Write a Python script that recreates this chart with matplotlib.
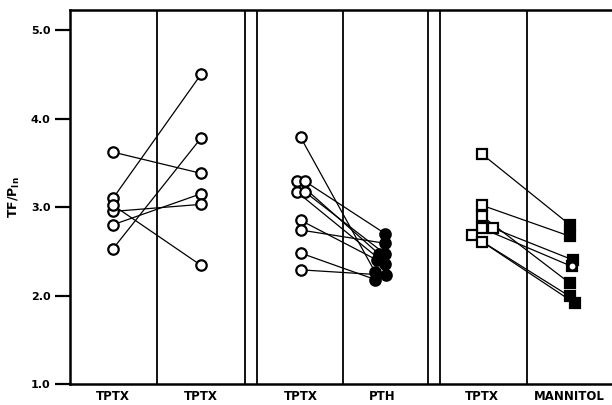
#!/usr/bin/env python3
"""Paired TF/P_In values: TPTX vs TPTX, TPTX vs PTH, TPTX vs MANNITOL."""

import matplotlib
matplotlib.use("Agg")
import matplotlib.pyplot as plt

# column labels along the bottom
col_labels = ["TPTX", "TPTX", "TPTX", "PTH", "TPTX", "MANNITOL"]

# panel A: TPTX -> TPTX (open circles both sides)
a_before = [3.62, 3.10, 2.53, 2.80, 2.95, 3.02]
a_after = [3.38, 4.50, 3.78, 3.15, 3.03, 2.34]
a_dx_before = [0.0, 0.0, 0.0, 0.0, 0.0, 0.0]
a_dx_after = [0.0, 0.0, 0.0, 0.0, 0.0, 0.0]

# panel B: TPTX (open circles) -> PTH (filled circles)
b_before = [3.79, 3.29, 3.29, 3.17, 3.17, 2.85, 2.74, 2.48, 2.29]
b_after = [2.26, 2.47, 2.70, 2.36, 2.47, 2.40, 2.59, 2.18, 2.23]
b_dx_before = [0.0, -0.04, 0.05, -0.04, 0.05, 0.0, 0.0, 0.0, 0.0]
b_dx_after = [-0.08, -0.04, 0.03, 0.03, 0.03, -0.06, 0.03, -0.08, 0.04]

# panel C: TPTX (open squares) -> MANNITOL (filled squares)
c_before = [3.60, 3.02, 2.76, 2.76, 2.90, 2.68, 2.61]
c_after = [2.80, 2.67, 2.40, 2.33, 2.14, 1.99, 1.91]
c_dx_before = [0.0, 0.0, 0.13, 0.0, 0.0, -0.11, 0.0]
c_dx_after = [0.0, 0.0, 0.04, 0.02, 0.0, 0.0, 0.06]

# column geometry (x units: one column ~ 1 unit)
col_centers = [0.49, 1.49, 2.62, 3.55, 4.68, 5.68]
dividers = [0.99, 1.99, 2.125, 3.10, 4.07, 4.20, 5.19]
yticks = [1.0, 2.0, 3.0, 4.0, 5.0]

fig = plt.figure(figsize=(6.12, 4.05), dpi=100)
ax = fig.add_axes([70 / 612, 21 / 405, 542 / 612, 374 / 405])
ax.set_xlim(0, 6.16)
ax.set_ylim(1.0, 5.226)

for d in dividers:
    ax.axvline(d, color="black", linewidth=1.3, zorder=1)


def draw_pairs(before, after, dxb, dxa, xb, xa, mk, fill_after):
    for yb, ya, db, da in zip(before, after, dxb, dxa):
        ax.plot([xb + db, xa + da], [yb, ya], color="black", linewidth=0.9, zorder=2)
    for yb, db in zip(before, dxb):
        ax.plot(xb + db, yb, marker=mk, markersize=7.5, markeredgewidth=1.6,
                markerfacecolor="white", markeredgecolor="black",
                linestyle="none", zorder=3)
    for ya, da in zip(after, dxa):
        ax.plot(xa + da, ya, marker=mk, markersize=7.5, markeredgewidth=1.6,
                markerfacecolor="black" if fill_after else "white",
                markeredgecolor="black", linestyle="none", zorder=3)


draw_pairs(a_before, a_after, a_dx_before, a_dx_after, col_centers[0], col_centers[1], "o", False)
draw_pairs(b_before, b_after, b_dx_before, b_dx_after, col_centers[2], col_centers[3], "o", True)
draw_pairs(c_before, c_after, c_dx_before, c_dx_after, col_centers[4], col_centers[5], "s", True)

# the odd ringed mannitol point
ax.plot(col_centers[5] + c_dx_after[3] + 0.01, c_after[3], marker="o", markersize=5.5,
        markerfacecolor="white", markeredgecolor="black", markeredgewidth=1.3,
        linestyle="none", zorder=4)

for spine in ["left", "bottom", "top"]:
    ax.spines[spine].set_linewidth(1.8)
ax.spines["right"].set_visible(False)

ax.set_yticks(yticks)
ax.set_yticklabels([f"{t:.1f}" for t in yticks], fontsize=8, fontweight="bold")
ax.tick_params(axis="y", length=11, width=1.6, direction="out", pad=3)
ax.set_xticks([])

for x, lab in zip(col_centers, col_labels):
    fam = "Liberation Sans Narrow" if lab == "MANNITOL" else "DejaVu Sans"
    ax.text(x, 0.93, lab, ha="center", va="top", fontsize=8.5, fontweight="bold",
            family=fam, transform=ax.transData, clip_on=False)

ax.set_ylabel(r"TF/P$_{\mathbf{In}}$", fontsize=9, fontweight="bold", labelpad=6)

fig.savefig("out.png", dpi=100)
